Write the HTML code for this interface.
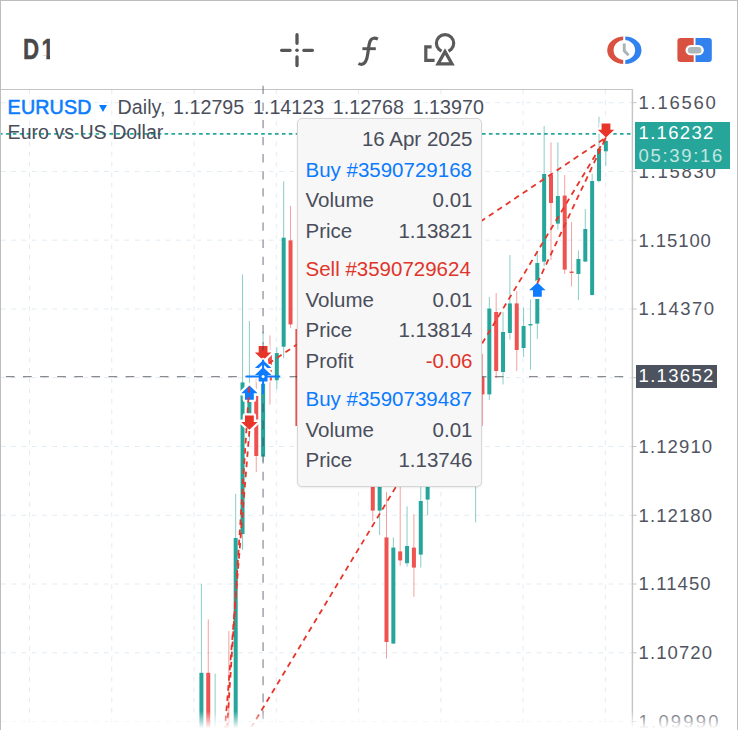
<!DOCTYPE html>
<html lang="en"><head><meta charset="utf-8"><title>EURUSD Daily</title>
<style>
html,body{margin:0;padding:0;background:#fff;}
body{width:738px;height:730px;overflow:hidden;position:relative;font-family:"Liberation Sans",Arial,sans-serif;color:#4a4e5b;}
#frame{position:absolute;left:0;top:0;width:736px;height:740px;border:1px solid #bdbdbd;border-bottom:none;pointer-events:none;z-index:20;}
#toolbar{position:absolute;left:0;top:0;width:633px;height:88.7px;border-bottom:1.2px solid #c4c4c4;background:#fff;}
#tf{position:absolute;left:23.2px;top:32.4px;font-weight:bold;font-size:29px;line-height:34px;height:34px;color:#484848;transform:scaleX(0.77);transform-origin:0 0;letter-spacing:3.05px;white-space:nowrap;-webkit-text-stroke:0.45px #484848;}
#tf span{display:inline-block;height:34px;vertical-align:top;clip-path:polygon(0 0,0.385em 0,0.385em 100%,0.222em 100%,0.222em 23.4px,0 23.4px);}
#chart{position:absolute;left:0;top:0;}
.hdr{position:absolute;left:7.6px;white-space:nowrap;font-size:19.7px;line-height:24px;}
.hdr i{font-style:normal;position:absolute;top:0;}
#h1{top:95px;}
#h1 b{color:#0a7cff;font-weight:normal;-webkit-text-stroke:0.55px #0a7cff;letter-spacing:0.15px;}
#h1 .tri{display:inline-block;width:0;height:0;border-left:4px solid transparent;border-right:4px solid transparent;border-top:7.5px solid #0a7cff;margin:0 8px 1px 7.7px;vertical-align:middle;}
#h2{top:120px;font-size:19.6px;}
.pl{position:absolute;left:638.6px;font-size:18.5px;line-height:24px;letter-spacing:1.68px;color:#50545f;white-space:nowrap;}
#cur{position:absolute;left:634.5px;top:122px;width:95px;height:47px;background:#26a69a;color:#fff;font-size:18.5px;letter-spacing:1.68px;}
#cur div{position:absolute;left:4.1px;line-height:24px;white-space:nowrap;}
#cx{position:absolute;left:636.3px;top:364.6px;width:80.7px;height:23.4px;background:#4c525e;color:#fff;font-size:18.5px;letter-spacing:1.68px;line-height:24px;}
#cx span{position:absolute;left:2.3px;top:-0.4px;white-space:nowrap;}
#tip{position:absolute;left:297px;top:118px;width:183px;height:367px;background:#f7f7f7;border:1px solid #d6d6d6;border-radius:5px;box-shadow:0 1px 2px rgba(0,0,0,0.08);font-size:20.5px;}
#tip .r{position:absolute;left:7.5px;right:8.5px;height:30px;line-height:30px;white-space:nowrap;}
#tip .r span{position:absolute;right:0;top:0;}
#tip .b{color:#0b7bff;} #tip .s{color:#e0352b;}
#fade{position:absolute;left:1px;top:711px;width:736px;height:19px;background:linear-gradient(to bottom,rgba(255,255,255,0),#fff 92%);z-index:10;}
</style></head><body>
<div id="toolbar"><div id="tf">D<span>1</span></div></div>
<svg id="chart" width="738" height="730" viewBox="0 0 738 730">
<g stroke="#dfeaf2" stroke-width="0.9" stroke-dasharray="4.6 5.7" fill="none">
<line x1="29.5" y1="90" x2="29.5" y2="730" />
<line x1="111.8" y1="90" x2="111.8" y2="730" />
<line x1="194.0" y1="90" x2="194.0" y2="730" />
<line x1="276.3" y1="90" x2="276.3" y2="730" />
<line x1="358.6" y1="90" x2="358.6" y2="730" />
<line x1="440.9" y1="90" x2="440.9" y2="730" />
<line x1="523.1" y1="90" x2="523.1" y2="730" />
<line x1="605.4" y1="90" x2="605.4" y2="730" />
<line x1="1" y1="102.7" x2="632" y2="102.7" />
<line x1="1" y1="171.5" x2="632" y2="171.5" />
<line x1="1" y1="240.2" x2="632" y2="240.2" />
<line x1="1" y1="309.0" x2="632" y2="309.0" />
<line x1="1" y1="377.7" x2="632" y2="377.7" />
<line x1="1" y1="446.5" x2="632" y2="446.5" />
<line x1="1" y1="515.3" x2="632" y2="515.3" />
<line x1="1" y1="584.0" x2="632" y2="584.0" />
<line x1="1" y1="652.8" x2="632" y2="652.8" />
<line x1="1" y1="721.5" x2="632" y2="721.5" />
</g>
<line x1="632.4" y1="90" x2="632.4" y2="730" stroke="#c4c4c4" stroke-width="1.4"/>
<line x1="632" y1="102.7" x2="636.5" y2="102.7" stroke="#c4c4c4" stroke-width="1"/>
<line x1="632" y1="171.5" x2="636.5" y2="171.5" stroke="#c4c4c4" stroke-width="1"/>
<line x1="632" y1="240.2" x2="636.5" y2="240.2" stroke="#c4c4c4" stroke-width="1"/>
<line x1="632" y1="309.0" x2="636.5" y2="309.0" stroke="#c4c4c4" stroke-width="1"/>
<line x1="632" y1="377.7" x2="636.5" y2="377.7" stroke="#c4c4c4" stroke-width="1"/>
<line x1="632" y1="446.5" x2="636.5" y2="446.5" stroke="#c4c4c4" stroke-width="1"/>
<line x1="632" y1="515.3" x2="636.5" y2="515.3" stroke="#c4c4c4" stroke-width="1"/>
<line x1="632" y1="584.0" x2="636.5" y2="584.0" stroke="#c4c4c4" stroke-width="1"/>
<line x1="632" y1="652.8" x2="636.5" y2="652.8" stroke="#c4c4c4" stroke-width="1"/>
<line x1="632" y1="721.5" x2="636.5" y2="721.5" stroke="#c4c4c4" stroke-width="1"/>
<g shape-rendering="auto">
<rect x="200.91" y="583.8" width="1" height="176.2" fill="#26a69a" opacity="0.55"/>
<rect x="199.41" y="672.8" width="4.0" height="87.2" fill="#26a69a"/>
<rect x="207.76" y="619.4" width="1" height="140.6" fill="#ef5350" opacity="0.55"/>
<rect x="206.26" y="672.8" width="4.0" height="87.2" fill="#ef5350"/>
<rect x="214.62" y="673.6" width="1" height="86.4" fill="#26a69a" opacity="0.55"/>
<rect x="213.12" y="759.0" width="4.0" height="1.0" fill="#26a69a"/>
<rect x="228.33" y="631.0" width="1" height="129.0" fill="#ef5350" opacity="0.55"/>
<rect x="226.83" y="759.0" width="4.0" height="1.0" fill="#ef5350"/>
<rect x="235.18" y="494.0" width="1" height="266.0" fill="#26a69a" opacity="0.55"/>
<rect x="233.68" y="538.0" width="4.0" height="222.0" fill="#26a69a"/>
<rect x="242.04" y="274.4" width="1" height="275.6" fill="#26a69a" opacity="0.55"/>
<rect x="240.54" y="382.4" width="4.0" height="151.6" fill="#26a69a"/>
<rect x="248.89" y="321.0" width="1" height="120.0" fill="#26a69a" opacity="0.55"/>
<rect x="247.39" y="386.0" width="4.0" height="42.0" fill="#26a69a"/>
<rect x="255.75" y="378.0" width="1" height="94.0" fill="#ef5350" opacity="0.55"/>
<rect x="254.25" y="396.0" width="4.0" height="60.0" fill="#ef5350"/>
<rect x="262.60" y="331.5" width="1" height="130.5" fill="#26a69a" opacity="0.55"/>
<rect x="261.10" y="345.8" width="4.0" height="110.8" fill="#26a69a"/>
<rect x="269.46" y="335.4" width="1" height="69.2" fill="#ef5350" opacity="0.55"/>
<rect x="267.96" y="351.0" width="4.0" height="29.4" fill="#ef5350"/>
<rect x="276.31" y="347.2" width="1" height="41.9" fill="#26a69a" opacity="0.55"/>
<rect x="274.81" y="353.1" width="4.0" height="27.1" fill="#26a69a"/>
<rect x="283.17" y="181.2" width="1" height="176.8" fill="#26a69a" opacity="0.55"/>
<rect x="281.67" y="237.7" width="4.0" height="109.0" fill="#26a69a"/>
<rect x="290.02" y="205.8" width="1" height="122.2" fill="#ef5350" opacity="0.55"/>
<rect x="288.52" y="240.4" width="4.0" height="84.0" fill="#ef5350"/>
<rect x="296.88" y="324.0" width="1" height="102.5" fill="#ef5350" opacity="0.55"/>
<rect x="295.38" y="329.0" width="4.0" height="97.0" fill="#ef5350"/>
<rect x="372.28" y="440.0" width="1" height="81.0" fill="#ef5350" opacity="0.55"/>
<rect x="370.78" y="450.0" width="4.0" height="60.6" fill="#ef5350"/>
<rect x="379.14" y="440.0" width="1" height="95.0" fill="#26a69a" opacity="0.55"/>
<rect x="377.64" y="450.0" width="4.0" height="60.6" fill="#26a69a"/>
<rect x="385.99" y="492.0" width="1" height="166.6" fill="#ef5350" opacity="0.55"/>
<rect x="384.49" y="537.4" width="4.0" height="104.6" fill="#ef5350"/>
<rect x="392.85" y="537.4" width="1" height="106.2" fill="#26a69a" opacity="0.55"/>
<rect x="391.35" y="547.6" width="4.0" height="96.0" fill="#26a69a"/>
<rect x="399.70" y="460.0" width="1" height="105.6" fill="#ef5350" opacity="0.55"/>
<rect x="398.20" y="551.4" width="4.0" height="9.0" fill="#ef5350"/>
<rect x="406.56" y="506.4" width="1" height="60.2" fill="#26a69a" opacity="0.55"/>
<rect x="405.06" y="546.0" width="4.0" height="17.2" fill="#26a69a"/>
<rect x="413.41" y="514.4" width="1" height="82.4" fill="#ef5350" opacity="0.55"/>
<rect x="411.91" y="547.6" width="4.0" height="20.0" fill="#ef5350"/>
<rect x="420.27" y="470.0" width="1" height="97.6" fill="#26a69a" opacity="0.55"/>
<rect x="418.77" y="501.0" width="4.0" height="53.6" fill="#26a69a"/>
<rect x="427.12" y="440.0" width="1" height="75.0" fill="#26a69a" opacity="0.55"/>
<rect x="425.62" y="450.0" width="4.0" height="49.6" fill="#26a69a"/>
<rect x="475.11" y="440.0" width="1" height="82.4" fill="#26a69a" opacity="0.55"/>
<rect x="473.61" y="450.0" width="4.0" height="20.0" fill="#26a69a"/>
<rect x="481.96" y="354.0" width="1" height="72.0" fill="#ef5350" opacity="0.55"/>
<rect x="480.46" y="377.0" width="4.0" height="17.4" fill="#ef5350"/>
<rect x="488.82" y="297.0" width="1" height="103.0" fill="#26a69a" opacity="0.55"/>
<rect x="487.32" y="308.6" width="4.0" height="85.8" fill="#26a69a"/>
<rect x="495.67" y="293.0" width="1" height="85.0" fill="#ef5350" opacity="0.55"/>
<rect x="494.17" y="312.0" width="4.0" height="59.0" fill="#ef5350"/>
<rect x="502.53" y="312.0" width="1" height="72.4" fill="#26a69a" opacity="0.55"/>
<rect x="501.03" y="332.0" width="4.0" height="40.0" fill="#26a69a"/>
<rect x="509.38" y="255.0" width="1" height="84.6" fill="#26a69a" opacity="0.55"/>
<rect x="507.88" y="303.4" width="4.0" height="29.6" fill="#26a69a"/>
<rect x="516.24" y="291.0" width="1" height="80.0" fill="#ef5350" opacity="0.55"/>
<rect x="514.74" y="303.4" width="4.0" height="46.6" fill="#ef5350"/>
<rect x="523.09" y="307.6" width="1" height="49.4" fill="#26a69a" opacity="0.55"/>
<rect x="521.59" y="326.0" width="4.0" height="22.0" fill="#26a69a"/>
<rect x="529.95" y="299.6" width="1" height="70.0" fill="#26a69a" opacity="0.55"/>
<rect x="528.45" y="324.0" width="4.0" height="1.5" fill="#26a69a"/>
<rect x="536.80" y="251.0" width="1" height="88.0" fill="#26a69a" opacity="0.55"/>
<rect x="535.30" y="263.0" width="4.0" height="60.6" fill="#26a69a"/>
<rect x="543.65" y="126.0" width="1" height="140.0" fill="#26a69a" opacity="0.55"/>
<rect x="542.15" y="174.0" width="4.0" height="87.6" fill="#26a69a"/>
<rect x="550.51" y="142.4" width="1" height="117.6" fill="#ef5350" opacity="0.55"/>
<rect x="549.01" y="175.0" width="4.0" height="28.0" fill="#ef5350"/>
<rect x="557.37" y="142.4" width="1" height="87.2" fill="#26a69a" opacity="0.55"/>
<rect x="555.87" y="196.0" width="4.0" height="27.6" fill="#26a69a"/>
<rect x="564.22" y="175.0" width="1" height="99.0" fill="#ef5350" opacity="0.55"/>
<rect x="562.72" y="195.6" width="4.0" height="74.0" fill="#ef5350"/>
<rect x="571.08" y="222.0" width="1" height="64.4" fill="#ef5350" opacity="0.55"/>
<rect x="569.58" y="271.5" width="4.0" height="1.5" fill="#ef5350"/>
<rect x="577.93" y="250.4" width="1" height="49.6" fill="#26a69a" opacity="0.55"/>
<rect x="576.43" y="259.0" width="4.0" height="15.0" fill="#26a69a"/>
<rect x="584.79" y="209.0" width="1" height="53.0" fill="#26a69a" opacity="0.55"/>
<rect x="583.29" y="229.0" width="4.0" height="32.6" fill="#26a69a"/>
<rect x="591.64" y="173.6" width="1" height="121.9" fill="#26a69a" opacity="0.55"/>
<rect x="590.14" y="181.0" width="4.0" height="114.0" fill="#26a69a"/>
<rect x="598.50" y="116.8" width="1" height="65.6" fill="#26a69a" opacity="0.55"/>
<rect x="597.00" y="148.8" width="4.0" height="32.2" fill="#26a69a"/>
<rect x="605.35" y="134.0" width="1" height="31.6" fill="#26a69a" opacity="0.55"/>
<rect x="603.85" y="140.9" width="4.0" height="10.4" fill="#26a69a"/>
</g>
<!-- current price dotted line -->
<line x1="1" y1="133.9" x2="632" y2="133.9" stroke="#26a69a" stroke-width="1.9" stroke-dasharray="3.6 3.3" stroke-dashoffset="2"/>
<!-- markers -->
<path d="M263.1,360.2 L254.9,352.4 L258.7,352.4 L258.7,346.1 L267.5,346.1 L267.5,352.4 L271.4,352.4 Z" fill="#e8352a" stroke="#fff" stroke-width="4.6" stroke-linejoin="round" paint-order="stroke"/>
<path d="M263.1,360.2 L254.9,368.0 L258.7,368.0 L258.7,374.5 L267.5,374.5 L267.5,368.0 L271.4,368.0 Z" fill="#0f7bff" stroke="#fff" stroke-width="4.6" stroke-linejoin="round" paint-order="stroke"/>
<path d="M263.1,367.2 L254.9,375.0 L258.7,375.0 L258.7,381.5 L267.5,381.5 L267.5,375.0 L271.4,375.0 Z" fill="#0f7bff" stroke="#fff" stroke-width="4.6" stroke-linejoin="round" paint-order="stroke"/>
<path d="M249.4,385.4 L241.2,393.2 L245.0,393.2 L245.0,399.7 L253.8,399.7 L253.8,393.2 L257.6,393.2 Z" fill="#0f7bff" stroke="#fff" stroke-width="4.6" stroke-linejoin="round" paint-order="stroke"/>
<path d="M249.4,429.7 L241.2,421.9 L245.0,421.9 L245.0,415.6 L253.8,415.6 L253.8,421.9 L257.6,421.9 Z" fill="#e8352a" stroke="#fff" stroke-width="4.6" stroke-linejoin="round" paint-order="stroke"/>
<path d="M537.4,282.4 L529.1,290.2 L533.0,290.2 L533.0,296.7 L541.8,296.7 L541.8,290.2 L545.6,290.2 Z" fill="#0f7bff" stroke="#fff" stroke-width="4.6" stroke-linejoin="round" paint-order="stroke"/>
<path d="M606.0,137.5 L597.8,129.7 L601.6,129.7 L601.6,123.4 L610.4,123.4 L610.4,129.7 L614.2,129.7 Z" fill="#e8352a" stroke="#fff" stroke-width="4.6" stroke-linejoin="round" paint-order="stroke"/>
<!-- trade lines -->
<g stroke="#e8352a" stroke-width="1.8" stroke-dasharray="5.6 4.6" fill="none">
<line x1="268.5" y1="363.6" x2="606" y2="137.5"/>
<line x1="606" y1="137.5" x2="251.5" y2="727"/>
<line x1="537.4" y1="283" x2="606" y2="137.5"/>
<line x1="249.4" y1="431" x2="224.4" y2="735"/>
<line x1="249.2" y1="387" x2="226.6" y2="735"/>
</g>
<!-- crosshair -->
<line x1="263.1" y1="85.7" x2="263.1" y2="362" stroke="rgba(60,60,80,0.40)" stroke-width="1.8" stroke-dasharray="8.3 8.8"/>
<line x1="263.1" y1="403.4" x2="263.1" y2="719.4" stroke="rgba(60,60,80,0.40)" stroke-width="1.8" stroke-dasharray="8.8 8.26"/>
<g stroke="rgba(40,40,50,0.55)" stroke-width="1.2" stroke-dasharray="8.7 8.4" fill="none">
<line x1="5.9" y1="376.6" x2="246" y2="376.6"/>
<line x1="289.6" y1="376.6" x2="504" y2="376.6"/>
<line x1="529" y1="376.6" x2="630" y2="376.6"/>
</g>
<path d="M245.8,376.4H280.2 M263.1,360V394" stroke="#0f7bff" stroke-width="2" fill="none"/>
<circle cx="263.1" cy="376.4" r="1.5" fill="#fff"/>
<!-- toolbar icons -->
<g stroke="#565656" stroke-width="3.3" stroke-linecap="round" fill="none">
<path d="M281.6,50.3H290.1 M303.8,50.3H312.4 M297,34.7V43.3 M297,57V65.6"/>
</g>
<circle cx="297" cy="50.3" r="1.8" fill="#565656"/>
<g stroke="#565656" fill="none">
<path d="M377.9,39.2 C375.4,37.9 371.9,37.4 370.3,40.8 C368.8,44 368.6,48 367.9,53 C367.2,58.6 365.8,64.2 361.6,64.3 C360.3,64.3 359.3,64 358.5,63.5" stroke-width="3.2"/>
<path d="M362.4,48.7 H375.8" stroke-width="2.9"/>
</g>
<g stroke="#5a5a5a" stroke-width="3.2" fill="none" stroke-linejoin="miter">
<circle cx="445.05" cy="43.2" r="8.65"/>
<path d="M445,51.6 L452.0,63.9 H438.0 Z" stroke="#fff" stroke-width="6.6" fill="#fff"/>
<path d="M445,51.6 L452.0,63.9 H438.0 Z" fill="#fff"/>
<path d="M431.6,46.8 H425.8 V60.4 H434.6"/>
</g>
<!-- clock icon -->
<defs>
<clipPath id="cl"><rect x="600" y="30" width="23.2" height="40"/></clipPath>
<clipPath id="cr"><rect x="625.3" y="30" width="23" height="40"/></clipPath>
</defs>
<path id="ring" fill-rule="evenodd" clip-path="url(#cl)" fill="#d95141" d="M607.2,50.2 a17.15,13.75 0 1 0 34.3,0 a17.15,13.75 0 1 0 -34.3,0 Z M613.6,50.2 a10.75,10.1 0 1 0 21.5,0 a10.75,10.1 0 1 0 -21.5,0 Z"/>
<path fill-rule="evenodd" clip-path="url(#cr)" fill="#3181ee" d="M607.2,50.2 a17.15,13.75 0 1 0 34.3,0 a17.15,13.75 0 1 0 -34.3,0 Z M613.6,50.2 a10.75,10.1 0 1 0 21.5,0 a10.75,10.1 0 1 0 -21.5,0 Z"/>
<path d="M624.25,43.5 V50.8 L628.6,55.2" stroke="#a9b4ba" stroke-width="2.9" fill="none" stroke-linejoin="miter"/>
<!-- one click trading icon -->
<path d="M680.4,38 H693.7 V62.1 H680.4 A3,3 0 0 1 677.4,59.1 V41 A3,3 0 0 1 680.4,38Z" fill="#d95141"/>
<path d="M695.5,38 H708.8 A3,3 0 0 1 711.8,41 V59.1 A3,3 0 0 1 708.8,62.1 H695.5Z" fill="#3181ee"/>
<rect x="685.5" y="45" width="18.3" height="10.3" rx="5.15" fill="#fff"/>
<rect x="687.8" y="47" width="13.6" height="6.5" rx="3.25" fill="#adb8bd"/>
</svg>
<div class="hdr" id="h1"><b>EURUSD</b><span class="tri"></span><i style="left:110px">Daily,</i><i style="left:165.5px">1.12795</i><i style="left:245.4px">1.14123</i><i style="left:325.2px">1.12768</i><i style="left:405.1px">1.13970</i></div>
<div class="hdr" id="h2">Euro vs US Dollar</div>
<div class="pl" style="top:91.1px;letter-spacing:1.72px">1.16560</div>
<div class="pl" style="top:159.9px;letter-spacing:1.72px">1.15830</div>
<div class="pl" style="top:228.6px;letter-spacing:0.9px">1.15100</div>
<div class="pl" style="top:297.4px;letter-spacing:1.42px">1.14370</div>
<div class="pl" style="top:434.9px;letter-spacing:1.1px">1.12910</div>
<div class="pl" style="top:503.7px;letter-spacing:1.08px">1.12180</div>
<div class="pl" style="top:572.4px;letter-spacing:1.08px">1.11450</div>
<div class="pl" style="top:641.2px;letter-spacing:1.08px">1.10720</div>
<div class="pl" style="top:709.9px;letter-spacing:2.18px">1.09990</div>
<div id="cur"><div style="top:-0.8px;letter-spacing:1.3px">1.16232</div><div style="top:22px;opacity:.72">05:39:16</div></div>
<div id="cx"><span style="letter-spacing:1.3px">1.13652</span></div>
<div id="fade"></div>
<div id="tip">
<div class="r" style="top:5.0px"><span>16 Apr 2025</span></div>
<div class="r b" style="top:35.5px">Buy #3590729168</div>
<div class="r" style="top:66.1px">Volume<span>0.01</span></div>
<div class="r" style="top:96.7px">Price<span>1.13821</span></div>
<div class="r s" style="top:135.1px">Sell #3590729624</div>
<div class="r" style="top:165.7px">Volume<span>0.01</span></div>
<div class="r" style="top:196.3px">Price<span>1.13814</span></div>
<div class="r" style="top:226.9px">Profit<span class="s">-0.06</span></div>
<div class="r b" style="top:265.1px">Buy #3590739487</div>
<div class="r" style="top:295.7px">Volume<span>0.01</span></div>
<div class="r" style="top:326.3px">Price<span>1.13746</span></div>
</div>
<div id="frame"></div>
</body></html>
